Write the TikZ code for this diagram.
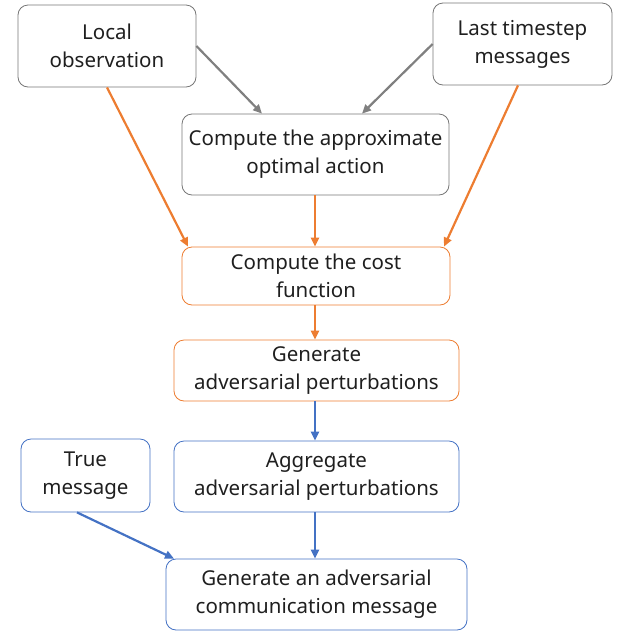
\documentclass[tikz,border=0pt]{standalone}
\usepackage{fontspec}
\setmainfont{Noto Sans}
\usetikzlibrary{arrows.meta}
\definecolor{boxgray}{RGB}{118,118,118}
\definecolor{arrgray}{RGB}{128,128,128}
\definecolor{orng}{RGB}{237,125,49}
\definecolor{blu}{RGB}{68,114,196}
\tikzset{
  box/.style={draw, rounded corners=10pt, line width=0.8pt, align=center,
    font=\fontsize{20.5}{28}\selectfont, text=black!88, inner sep=0pt},
  graybox/.style={box, draw=boxgray},
  orangebox/.style={box, draw=orng},
  bluebox/.style={box, draw=blu},
  conn/.style={line width=2.2pt, -{Triangle[length=9pt,width=8pt]}},
}
\begin{document}
\begin{tikzpicture}[x=1pt,y=-1pt]
\useasboundingbox (0,0) rectangle (618,633);
\node[graybox, minimum width=178pt, minimum height=82pt] (obs) at (107,46) {Local\\observation};
\node[graybox, minimum width=179pt, minimum height=82pt] (last) at (522.5,44) {Last timestep\\messages};
\node[graybox, minimum width=267pt, minimum height=81pt] (opt) at (315.5,154.5) {Compute the approximate\\optimal action};
\node[orangebox, minimum width=268pt, minimum height=58pt] (cost) at (316,276) {Compute the cost\\function};
\node[orangebox, minimum width=285pt, minimum height=61pt] (gen) at (316.5,370.5) {Generate\\adversarial perturbations};
\node[bluebox, minimum width=129pt, minimum height=73pt] (true) at (85.5,475.5) {True\\message};
\node[bluebox, minimum width=285pt, minimum height=71pt] (agg) at (316.5,476.5) {Aggregate\\adversarial perturbations};
\node[bluebox, minimum width=301pt, minimum height=71pt] (msg) at (316.5,594.5) {Generate an adversarial\\communication message};

% gray inputs to the optimal-action step
\draw[conn, arrgray] (obs.east |- 0,46) -- (opt.north -| 262,0);
\draw[conn, arrgray] (last.west |- 0,44) -- (opt.north -| 362,0);
% orange: cost function inputs
\draw[conn, orng] (obs.south -| 107,0) -- (cost.north -| 188,0);
\draw[conn, orng] (last.south -| 518,0) -- (cost.north -| 444,0);
\draw[conn, orng] (opt.south -| 315,0) -- (cost.north -| 315,0);
\draw[conn, orng] (cost.south -| 315,0) -- (gen.north -| 315,0);
% blue: perturbation aggregation and message generation
\draw[conn, blu] (gen.south -| 315,0) -- (agg.north -| 315,0);
\draw[conn, blu] (agg.south -| 315,0) -- (msg.north -| 315,0);
\draw[conn, blu] (true.south -| 77,0) -- (msg.north -| 174,0);
\end{tikzpicture}
\end{document}
